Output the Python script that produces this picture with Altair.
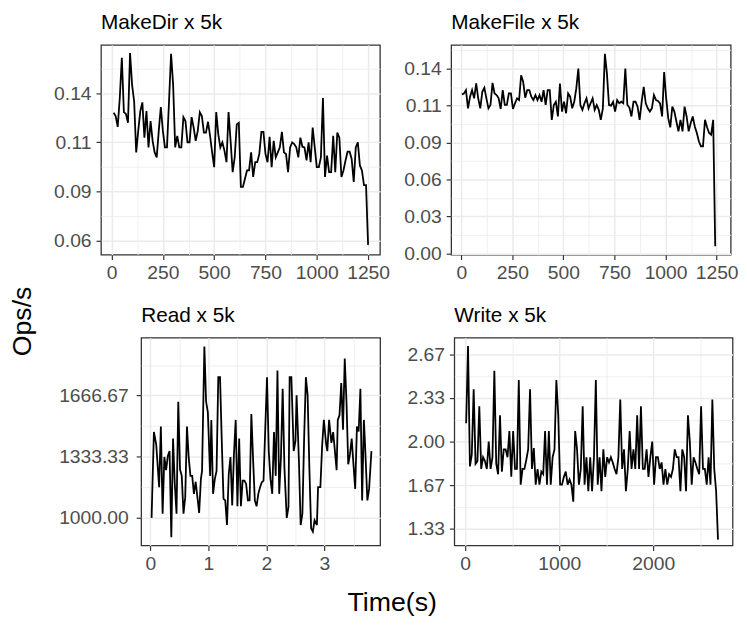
import altair as alt
import pandas as pd

FONT = "Liberation Sans"

# ---------------- data ----------------
MAKEDIR_T = list(range(10, 1260, 10))
MAKEDIR_OPS = [
    0.1314, 0.1295, 0.1232, 0.1400, 0.1634, 0.1318, 0.1308, 0.1256, 0.1662, 0.1477,
    0.1381, 0.1084, 0.1209, 0.1324, 0.1375, 0.1170, 0.1324, 0.1113, 0.1266, 0.1151,
    0.1084, 0.1055, 0.1209, 0.1347, 0.1209, 0.1113, 0.1113, 0.1381, 0.1658, 0.1477,
    0.1113, 0.1180, 0.1113, 0.1113, 0.1289, 0.1266, 0.1142, 0.1142, 0.1289, 0.1228,
    0.1151, 0.1209, 0.1318, 0.1295, 0.1199, 0.1199, 0.1262, 0.1180, 0.1084, 0.0998,
    0.1318, 0.1190, 0.1113, 0.1142, 0.1094, 0.1027, 0.1318, 0.1151, 0.0969, 0.1055,
    0.1247, 0.1256, 0.0883, 0.0883, 0.0931, 0.0979, 0.0979, 0.1084, 0.0941, 0.1027,
    0.1027, 0.1075, 0.1203, 0.1203, 0.1075, 0.1027, 0.1174, 0.0998, 0.1151, 0.1055,
    0.1084, 0.1113, 0.1203, 0.1084, 0.1075, 0.0969, 0.1113, 0.1142, 0.1132, 0.1113,
    0.1055, 0.1170, 0.1117, 0.1113, 0.1037, 0.1142, 0.1027, 0.1228, 0.1113, 0.0998,
    0.0998, 0.1055, 0.1400, 0.0941, 0.1065, 0.0969, 0.0969, 0.1180, 0.0969, 0.1199,
    0.1170, 0.0941, 0.0979, 0.1037, 0.1088, 0.1088, 0.1046, 0.0912, 0.1113, 0.1142,
    0.1008, 0.0979, 0.0893, 0.0893, 0.0546,
]

MAKEFILE_T = list(range(3, 1253, 10))
MAKEFILE_OPS = [
    0.1230, 0.1237, 0.1263, 0.1122, 0.1212, 0.1263, 0.1199, 0.1314, 0.1199, 0.1122,
    0.1250, 0.1281, 0.1199, 0.1122, 0.1148, 0.1319, 0.1237, 0.1224, 0.1199, 0.1117,
    0.1263, 0.1148, 0.1148, 0.1237, 0.1237, 0.1117, 0.1161, 0.1199, 0.1186, 0.1378,
    0.1327, 0.1204, 0.1263, 0.1263, 0.1212, 0.1186, 0.1224, 0.1186, 0.1224, 0.1173,
    0.1263, 0.1148, 0.1263, 0.1263, 0.1033, 0.1148, 0.1173, 0.1059, 0.1314, 0.1097,
    0.1173, 0.1084, 0.1237, 0.1212, 0.1122, 0.1173, 0.1276, 0.1429, 0.1148, 0.1110,
    0.1161, 0.1199, 0.1122, 0.1161, 0.1199, 0.1110, 0.1148, 0.1110, 0.1033, 0.1122,
    0.1543, 0.1390, 0.1148, 0.1143, 0.1173, 0.1097, 0.1186, 0.1161, 0.1173, 0.1161,
    0.1429, 0.1148, 0.1128, 0.1059, 0.1173, 0.1173, 0.1135, 0.1033, 0.1173, 0.1288,
    0.1161, 0.1122, 0.1097, 0.1122, 0.1224, 0.1186, 0.1179, 0.1161, 0.1059, 0.1403,
    0.1199, 0.1046, 0.0975, 0.1135, 0.1097, 0.1020, 0.0944, 0.1033, 0.0944, 0.1135,
    0.1059, 0.0944, 0.1008, 0.1059, 0.0982, 0.0931, 0.0867, 0.0829, 0.0829, 0.1033,
    0.0975, 0.0931, 0.0918, 0.1033, 0.0056,
]

READ_T = [
    0.02, 0.06, 0.10, 0.15, 0.18, 0.21, 0.24, 0.27, 0.30, 0.33,
    0.36, 0.39, 0.42, 0.45, 0.48, 0.51, 0.54, 0.57, 0.60, 0.63,
    0.66, 0.69, 0.72, 0.75, 0.78, 0.81, 0.84, 0.87, 0.89, 0.93,
    0.96, 0.99, 1.03, 1.05, 1.08, 1.11, 1.14, 1.17, 1.20, 1.23,
    1.26, 1.29, 1.32, 1.35, 1.38, 1.41, 1.44, 1.47, 1.50, 1.53,
    1.56, 1.59, 1.62, 1.65, 1.68, 1.71, 1.74, 1.77, 1.80, 1.83,
    1.86, 1.89, 1.92, 1.95, 1.98, 2.01, 2.04, 2.07, 2.10, 2.13,
    2.16, 2.19, 2.22, 2.25, 2.28, 2.31, 2.35, 2.38, 2.40, 2.43,
    2.47, 2.50, 2.52, 2.56, 2.59, 2.62, 2.65, 2.68, 2.71, 2.74,
    2.77, 2.80, 2.83, 2.87, 2.89, 2.93, 2.96, 2.99, 3.03, 3.05,
    3.08, 3.12, 3.15, 3.17, 3.21, 3.23, 3.26, 3.29, 3.32, 3.35,
    3.38, 3.41, 3.44, 3.47, 3.50, 3.53, 3.56, 3.59, 3.62, 3.65,
    3.68, 3.70, 3.74, 3.77, 3.81,
]
READ_OPS = [
    1000, 1468, 1400, 1167, 1498, 1023, 1332, 1260, 1337, 1364,
    894, 1432, 1185, 1023, 1633, 1265, 1229, 1023, 1113, 1498,
    1328, 1229, 1229, 1131, 1197, 1113, 1027, 1211, 1256, 1934,
    1633, 1575, 1229, 1534, 1131, 1211, 1256, 1767, 1767, 1418,
    1104, 1095, 961, 1238, 1332, 1068, 1346, 1534, 1063, 1432,
    1063, 1203, 1203, 1185, 1095, 1095, 1566, 1319, 1095, 1063,
    1131, 1167, 1194, 1203, 1489, 1767, 1364, 1211, 1131, 1468,
    1229, 1803, 1131, 1328, 1704, 1274, 1000, 1059, 1767, 1767,
    1364, 1418, 1668, 1310, 961, 1023, 1435, 1767, 1668, 1274,
    943, 925, 987, 961, 1167, 1167, 1391, 1534, 1400, 1364,
    1534, 1409, 1468, 1400, 1260, 1534, 1561, 1735, 1480, 1869,
    1633, 1292, 1346, 1432, 1292, 1158, 1498, 1471, 1704, 1095,
    1534, 1400, 1095, 1158, 1364,
]

WRITE_T = list(range(10, 2710, 20))
WRITE_OPS = [
    2.14, 2.73, 1.81, 1.90, 2.40, 1.83, 1.85, 2.27, 1.79, 1.88,
    1.85, 1.79, 2.00, 1.79, 1.88, 2.54, 1.83, 1.75, 2.20, 1.77,
    1.94, 1.94, 1.88, 2.08, 1.73, 2.08, 1.79, 1.79, 2.47, 1.67,
    1.79, 1.79, 1.86, 1.94, 2.40, 1.79, 1.95, 1.67, 1.79, 1.67,
    1.77, 1.75, 2.08, 1.67, 2.08, 1.67, 1.88, 1.94, 2.47, 2.20,
    1.67, 1.67, 1.73, 1.77, 1.67, 1.71, 1.67, 1.54, 2.08, 1.94,
    1.67, 1.79, 2.27, 1.67, 1.88, 1.62, 1.88, 1.62, 1.88, 2.47,
    1.67, 1.88, 1.62, 1.94, 1.73, 1.88, 1.84, 1.88, 1.84, 1.79,
    1.75, 1.88, 2.32, 1.79, 1.94, 1.62, 1.79, 2.08, 1.79, 1.94,
    1.79, 2.20, 1.79, 2.27, 1.79, 1.79, 1.94, 1.73, 1.88, 2.00,
    1.67, 1.88, 1.88, 1.79, 1.84, 1.67, 1.79, 1.67, 1.75, 1.73,
    1.79, 1.94, 1.88, 1.88, 1.62, 1.94, 1.88, 1.62, 2.20, 2.00,
    1.67, 1.88, 1.84, 1.79, 1.75, 2.27, 1.79, 1.79, 1.67, 1.88,
    1.67, 2.32, 1.79, 1.62, 1.25,
]

TITLES = ["MakeDir x 5k", "MakeFile x 5k", "Read x 5k", "Write x 5k"]
X_TITLE = "Time(s)"
Y_TITLE = "Ops/s"

# tick positions (major) and grid-only positions (minor)
MD_X_MAJOR = [0, 250, 500, 750, 1000, 1250]
MD_X_MINOR = [125, 375, 625, 875, 1125]
MD_Y_MAJOR = [2 / 35, 3 / 35, 4 / 35, 5 / 35]
MD_Y_MINOR = [2.5 / 35, 3.5 / 35, 4.5 / 35, 5.5 / 35]
MF_Y_MAJOR = [0, 1 / 35, 2 / 35, 3 / 35, 4 / 35, 5 / 35]
MF_Y_MINOR = [0.5 / 35, 1.5 / 35, 2.5 / 35, 3.5 / 35, 4.5 / 35, 5.5 / 35]
RD_X_MAJOR = [0, 1, 2, 3]
RD_X_MINOR = [0.5, 1.5, 2.5, 3.5]
RD_Y_MAJOR = [1000, 4000 / 3, 5000 / 3]
RD_Y_MINOR = [3500 / 3, 4500 / 3, 5500 / 3]
WR_X_MAJOR = [0, 1000, 2000]
WR_X_MINOR = [500, 1500, 2500]
WR_Y_MAJOR = [4 / 3, 5 / 3, 2, 7 / 3, 8 / 3]
WR_Y_MINOR = [1.5, 11 / 6, 13 / 6, 2.5]

NO_VIEW = alt.ViewBackground(stroke="transparent", fill="transparent")


def major_test(m0, step):
    return (f"abs((datum.value - ({m0!r}))/({step!r}) - "
            f"round((datum.value - ({m0!r}))/({step!r}))) < 0.01")


def make_axis(major, minor, fmt, extent, pad):
    m0 = major[0]
    step = major[1] - major[0]
    test = major_test(m0, step)
    return alt.Axis(
        values=sorted(major + minor),
        labelExpr=f"({test}) ? format(datum.value, '{fmt}') : ''",
        grid=True,
        gridColor="#ebebeb",
        gridWidth={"condition": {"test": test, "value": 1.5}, "value": 0.8},
        domain=False,
        ticks=True,
        tickSize=5,
        tickColor="#333333",
        tickWidth=1.2,
        tickOpacity={"condition": {"test": test, "value": 1}, "value": 0},
        labelFont=FONT,
        labelFontSize=19.5,
        labelColor="#4d4d4d",
        labelPadding=pad,
        labelOverlap=False,
        labelFlush=False,
        minExtent=extent,
        maxExtent=extent,
        title=None,
    )


def text_layer(label, x, y, size, angle=0, align="left"):
    return (
        alt.Chart(pd.DataFrame({"label": [label]}))
        .mark_text(
            font=FONT, fontSize=size, color="black", align=align,
            baseline="alphabetic", angle=angle,
        )
        .encode(x=alt.value(x), y=alt.value(y), text="label:N")
    )


def panel(t, v, title, xdom, ydom, xax, yax, w, h):
    df = pd.DataFrame({"t": t, "v": v})
    line = (
        alt.Chart(df)
        .mark_line(color="black", strokeWidth=1.8)
        .encode(
            x=alt.X("t:Q", scale=alt.Scale(domain=xdom, nice=False, zero=False), axis=xax),
            y=alt.Y("v:Q", scale=alt.Scale(domain=ydom, nice=False, zero=False), axis=yax),
        )
    )
    return alt.layer(line, text_layer(title, 0, -16.3, 21)).properties(width=w, height=h)


X_EXT = 28
X_PAD = 4

p1 = panel(
    MAKEDIR_T, MAKEDIR_OPS, TITLES[0], [-51.6, 1307.7], [0.0489, 0.1709],
    make_axis(MD_X_MAJOR, MD_X_MINOR, "d", X_EXT, X_PAD),
    make_axis(MD_Y_MAJOR, MD_Y_MINOR, ".2f", 48, 5), 282, 212,
)
p2 = panel(
    MAKEFILE_T, MAKEFILE_OPS, TITLES[1], [-49.5, 1318.7], [-0.0009, 0.1612],
    make_axis(MD_X_MAJOR, MD_X_MINOR, "d", X_EXT, X_PAD),
    make_axis(MF_Y_MAJOR, MF_Y_MINOR, ".2f", 48, 5), 282.6, 212,
)
p3 = panel(
    READ_T, READ_OPS, TITLES[2], [-0.16, 3.96], [849.5, 1982],
    make_axis(RD_X_MAJOR, RD_X_MINOR, "d", X_EXT, X_PAD),
    make_axis(RD_Y_MAJOR, RD_Y_MINOR, ".2f", 88.7, 8), 241.6, 210,
)
p4 = panel(
    WRITE_T, WRITE_OPS, TITLES[3], [-116, 2845], [1.2055, 2.793],
    make_axis(WR_X_MAJOR, WR_X_MINOR, "d", X_EXT, X_PAD),
    make_axis(WR_Y_MAJOR, WR_Y_MINOR, ".2f", 51.3, 5), 281.3, 210,
)

# spacer cells carry the shared axis titles
spacer_a = text_layer("", 0, 0, 10).properties(width=1, height=212, view=NO_VIEW)
spacer_b = alt.layer(
    text_layer(Y_TITLE, 2.6, -16.5, 27, angle=270, align="center"),
    text_layer(X_TITLE, 367.4, 276.2, 27, align="center"),
).properties(width=39, height=210, view=NO_VIEW)

row1 = alt.hconcat(spacer_a, p1, p2, spacing=72, bounds="flush")
row2 = alt.hconcat(spacer_b, p3, p4, spacing=74.6, bounds="flush")

chart = (
    alt.vconcat(row1, row2, spacing=2, bounds="full")
    .properties(padding=0, background="white")
    .configure_view(stroke="#333333", strokeWidth=1.3)
)

chart.save("out.html", embed_options={"renderer": "svg", "actions": False})
